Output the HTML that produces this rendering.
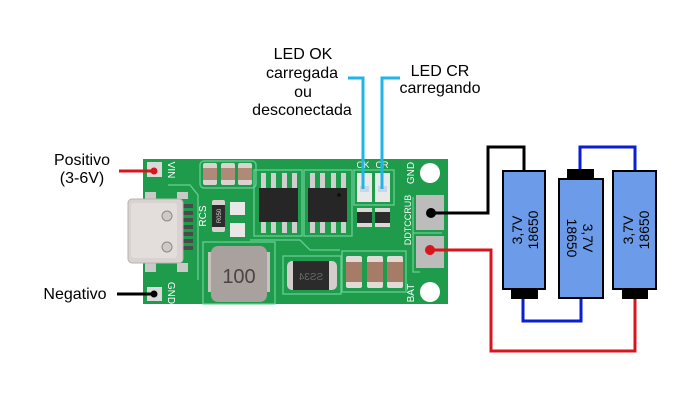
<!DOCTYPE html>
<html><head><meta charset="utf-8"><style>
html,body{margin:0;padding:0;background:#fff;}
svg{display:block;}
text{font-family:"Liberation Sans",Arial,sans-serif;}
</style></head><body>
<svg width="700" height="400" viewBox="0 0 700 400" xmlns="http://www.w3.org/2000/svg">
<rect width="700" height="400" fill="#fff"/>

<!-- labels -->
<g font-size="16" fill="#000" text-anchor="middle">
<text x="82" y="165">Positivo</text>
<text x="82" y="183">(3-6V)</text>
<text x="75" y="299">Negativo</text>
<text x="303" y="59">LED OK</text>
<text x="302" y="78">carregada</text>
<text x="303" y="97">ou</text>
<text x="302" y="115">desconectada</text>
<text x="440" y="76">LED CR</text>
<text x="440" y="93">carregando</text>
</g>

<!-- PCB -->
<rect x="143" y="159" width="305" height="145" fill="#1e9c4c"/>
<!-- silkscreen -->
<g fill="none" stroke="#6fd49b" stroke-width="1.3" opacity="0.9">
<path d="M168,185 L190,185 L198,195 L198,280"/>
<rect x="200" y="161" width="56" height="27" rx="4"/>
<rect x="203" y="242" width="72" height="62"/>
<rect x="283" y="256" width="58" height="38"/>
<rect x="342" y="251" width="64" height="41"/>
<rect x="254" y="170" width="48" height="66"/>
<rect x="304" y="170" width="48" height="66"/>
<rect x="354" y="170" width="40" height="35"/>
<path d="M413,197 L413,272 L420,272"/>
<path d="M413,233 L442,233"/>
<path d="M250,240 L300,240 L310,250 L340,250"/>
</g>

<!-- VIN / GND pads -->
<rect x="147" y="162" width="15" height="15" fill="#d9d9d9"/>
<rect x="147" y="287" width="15" height="14" fill="#d9d9d9"/>
<text transform="translate(168,170) rotate(90)" font-size="10" fill="#fff" text-anchor="middle">VIN</text>
<text transform="translate(168,293) rotate(90)" font-size="10" fill="#fff" text-anchor="middle">GND</text>

<!-- top caps -->
<g>
<rect x="203" y="163" width="14" height="22" rx="2" fill="#d9d3cf"/>
<rect x="203" y="168" width="14" height="12" fill="#b08a78"/>
<rect x="221" y="163" width="14" height="22" rx="2" fill="#d9d3cf"/>
<rect x="221" y="168" width="14" height="12" fill="#b08a78"/>
<rect x="238" y="163" width="14" height="22" rx="2" fill="#d9d3cf"/>
<rect x="238" y="168" width="14" height="12" fill="#b08a78"/>
</g>

<!-- USB-C -->
<rect x="145" y="192" width="11" height="7" fill="#c9c9c9"/>
<rect x="177" y="192" width="11" height="7" fill="#c9c9c9"/>
<rect x="145" y="263" width="11" height="9" fill="#c9c9c9"/>
<rect x="177" y="263" width="11" height="9" fill="#c9c9c9"/>
<g fill="#4a4a4a">
<rect x="182" y="204" width="11" height="4"/>
<rect x="182" y="211" width="11" height="4"/>
<rect x="182" y="218" width="11" height="4"/>
<rect x="182" y="225" width="11" height="4"/>
<rect x="182" y="232" width="11" height="4"/>
<rect x="182" y="239" width="11" height="4"/>
<rect x="182" y="246" width="11" height="4"/>
</g>
<rect x="128" y="199" width="55" height="64" rx="4" fill="#d8d2d0" stroke="#b8b2b0" stroke-width="1"/>
<rect x="131" y="203" width="46" height="55" rx="3" fill="#e3dedc"/>
<circle cx="167" cy="216" r="5" fill="#cfc9c7" stroke="#8e8886" stroke-width="1"/>
<circle cx="167" cy="247" r="5" fill="#cfc9c7" stroke="#8e8886" stroke-width="1"/>

<!-- RCS -->
<text transform="translate(206,216) rotate(-90)" font-size="10" fill="#fff" text-anchor="middle">RCS</text>
<rect x="212" y="200" width="13" height="32" rx="2" fill="#d6d1cd"/>
<rect x="212" y="205" width="13" height="22" fill="#2c2c2c"/>
<text transform="translate(221,216) rotate(-90)" font-size="6" fill="#ddd" text-anchor="middle">R050</text>
<rect x="230" y="202" width="15" height="13" fill="#e8e8e8"/>
<rect x="230" y="223" width="15" height="14" fill="#e8e8e8"/>

<!-- IC1 -->
<g fill="#cfcfcf">
<rect x="261" y="173" width="5" height="15"/><rect x="271" y="173" width="5" height="15"/>
<rect x="282" y="173" width="5" height="15"/><rect x="292" y="173" width="5" height="15"/>
<rect x="261" y="222" width="5" height="11"/><rect x="271" y="222" width="5" height="11"/>
<rect x="282" y="222" width="5" height="11"/><rect x="292" y="222" width="5" height="11"/>
<rect x="310" y="173" width="5" height="15"/><rect x="320" y="173" width="5" height="15"/>
<rect x="331" y="173" width="5" height="15"/><rect x="341" y="173" width="5" height="15"/>
<rect x="310" y="222" width="5" height="11"/><rect x="320" y="222" width="5" height="11"/>
<rect x="331" y="222" width="5" height="11"/><rect x="341" y="222" width="5" height="11"/>
</g>
<rect x="259" y="188" width="39" height="34" fill="#262626"/>
<rect x="308" y="188" width="39" height="34" fill="#262626"/>
<circle cx="339" cy="195" r="2" fill="#111"/>

<!-- LEDs -->
<text x="363" y="168" font-size="9" fill="#fff" text-anchor="middle">OK</text>
<text x="382" y="168" font-size="9" fill="#fff" text-anchor="middle">CR</text>
<rect x="357" y="173" width="15" height="29" fill="#e9e9e9"/>
<rect x="375" y="173" width="15" height="29" fill="#e9e9e9"/>
<rect x="360" y="186" width="9" height="6" fill="#c9d6e6"/>
<rect x="378" y="186" width="9" height="6" fill="#c9d6e6"/>
<rect x="357" y="208" width="15" height="19" fill="#dcd8d5"/>
<rect x="357" y="212" width="15" height="11" fill="#2c2c2c"/>
<rect x="375" y="208" width="15" height="19" fill="#dcd8d5"/>
<rect x="375" y="212" width="15" height="11" fill="#2c2c2c"/>

<!-- inductor -->
<rect x="208" y="252" width="6" height="40" fill="#c7c2be"/>
<rect x="264" y="252" width="6" height="40" fill="#c7c2be"/>
<rect x="211" y="246" width="56" height="56" rx="7" fill="#a9a19d"/>
<text x="239" y="283" font-size="20" fill="#4a4444" text-anchor="middle">100</text>

<!-- diode -->
<rect x="287" y="261" width="50" height="29" rx="5" fill="#d3cecb"/>
<rect x="293" y="261" width="36" height="29" fill="#2b2b2b"/>
<text transform="translate(311,280) scale(-1,1)" font-size="10" fill="#6a6a6a" text-anchor="middle">SS34</text>

<!-- bottom caps -->
<rect x="346" y="256" width="16" height="32" rx="2" fill="#e0dbd7"/>
<rect x="346" y="262" width="16" height="20" fill="#a67b67"/>
<rect x="367" y="256" width="16" height="32" rx="2" fill="#e0dbd7"/>
<rect x="367" y="262" width="16" height="20" fill="#a67b67"/>
<rect x="387" y="256" width="16" height="32" rx="2" fill="#e0dbd7"/>
<rect x="387" y="262" width="16" height="20" fill="#a67b67"/>

<!-- right side -->
<circle cx="430" cy="173" r="10" fill="#fff"/>
<circle cx="430" cy="292" r="10" fill="#fff"/>
<rect x="416" y="195" width="28" height="35" fill="#bcbcbc"/>
<rect x="416" y="236" width="28" height="32" fill="#bcbcbc"/>
<text transform="translate(414,173) rotate(-90)" font-size="10" fill="#fff" text-anchor="middle">GND</text>
<text transform="translate(411,220) rotate(-90)" font-size="9" fill="#fff" text-anchor="middle">DDTCCRUB</text>
<text transform="translate(414,293) rotate(-90)" font-size="10" fill="#fff" text-anchor="middle">BAT</text>

<!-- LED pointer lines -->
<g fill="none" stroke="#1fb5e9" stroke-width="3">
<polyline points="348,78 363,78 363,189"/>
<polyline points="400,78 382,78 382,189"/>
</g>

<!-- input wires -->
<line x1="119" y1="171" x2="153" y2="171" stroke="#d8141c" stroke-width="3"/>
<circle cx="154" cy="171" r="3.5" fill="#d8141c"/>
<line x1="117" y1="294" x2="153" y2="294" stroke="#000" stroke-width="3"/>
<circle cx="154" cy="294" r="3.5" fill="#000"/>

<!-- battery wires -->
<g fill="none" stroke-width="3">
<polyline points="431,213 488,213 488,147 524,147 524,171" stroke="#000"/>
<polyline points="430,250 491,250 491,351 635,351 635,298" stroke="#d8141c"/>
<polyline points="580,170 580,147 635,147 635,171" stroke="#0a1fd0"/>
<polyline points="523,298 523,321 581,321 581,298" stroke="#0a1fd0"/>
</g>
<circle cx="431" cy="213" r="5" fill="#000"/>
<circle cx="430" cy="250" r="5" fill="#d8141c"/>

<!-- batteries -->
<g stroke="#000" stroke-width="2">
<rect x="503" y="171" width="42" height="118" fill="#6b9be9"/>
<rect x="512" y="289" width="25" height="9" fill="#000"/>
<rect x="559" y="179" width="44" height="119" fill="#6b9be9"/>
<rect x="568" y="170" width="25" height="9" fill="#000"/>
<rect x="613" y="171" width="43" height="118" fill="#6b9be9"/>
<rect x="623" y="289" width="24" height="9" fill="#000"/>
</g>
<g font-size="14" fill="#000" text-anchor="middle">
<g transform="translate(524,230) rotate(-90)"><text x="0" y="-2">3,7V</text><text x="0" y="14">18650</text></g>
<g transform="translate(581,238) rotate(90)"><text x="0" y="-2">3,7V</text><text x="0" y="14">18650</text></g>
<g transform="translate(635,230) rotate(-90)"><text x="0" y="-2">3,7V</text><text x="0" y="14">18650</text></g>
</g>
</svg>
</body></html>
